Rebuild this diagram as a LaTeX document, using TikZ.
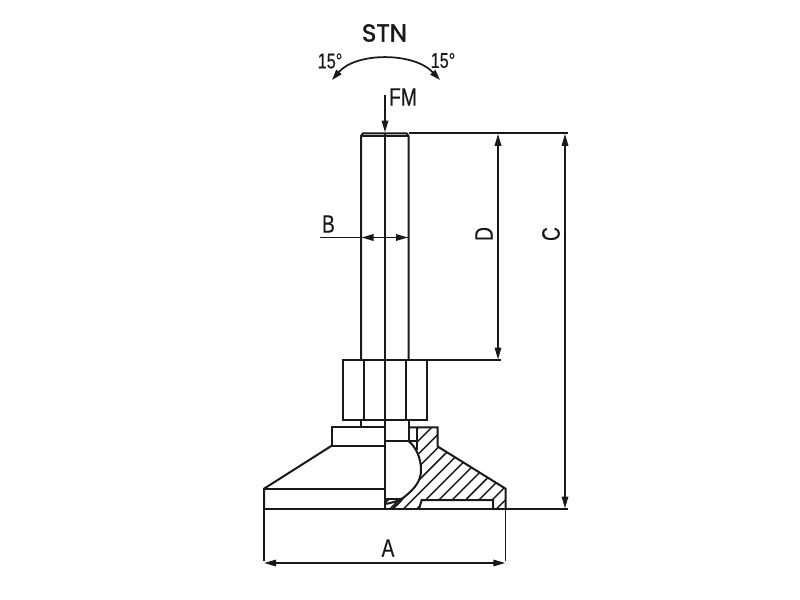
\documentclass[tikz,border=0pt]{standalone}
\usepackage{fontspec}
\usetikzlibrary{arrows.meta}
\setmainfont{Liberation Sans}
\newfontfamily\condfont[FakeStretch=0.76,FakeBold=0.25]{Liberation Sans}
\newfontfamily\titlefont[FakeBold=1.6]{Poppins}
\tikzset{
  part/.style={line width=1.5pt,black!90,line join=miter},
  thinpart/.style={line width=1.2pt,black!90},
  hatchline/.style={line width=1.1pt,black!90},
  dimline/.style={line width=1.35pt,black!90},
  tip/.style={{Stealth[length=9pt,width=4.8pt,inset=0pt]}-{Stealth[length=9pt,width=4.8pt,inset=0pt]}},
  oneend/.style={-{Stealth[length=9pt,width=4.8pt,inset=0pt]}},
  lab/.style={font=\condfont\fontsize{19}{20}\selectfont,inner sep=0pt,text=black!90},
  deg/.style={font=\condfont\fontsize{16}{17}\selectfont,inner sep=0pt,text=black!90}
}
\begin{document}
\begin{tikzpicture}[x=0.75pt,y=-0.75pt]
\useasboundingbox (0,0) rectangle (800,600);
\fill[white] (0,0) rectangle (800,600);
% hatching
\begin{scope}
\clip (417,427) -- (437.7,427) -- (437.7,446.5) -- (505.6,488.7) -- (505.6,509) -- (493,509) -- (493,500) -- (421.7,500) -- (419,509) -- (392,509)
   .. controls (398,505) and (401,501) .. (403,498) .. controls (416,488) and (421,480) .. (421,470) .. controls (421,462) and (420,455) .. (417,450) -- cycle;
\foreach \k in {-5,...,10}{
  \pgfmathsetmacro{\s}{912.3+13.3*\k}
  \draw[hatchline] (380,\s-380) -- (520,\s-520);
}
\end{scope}
\begin{scope}
\clip (385,498.5) -- (403,498.5) -- (392,509) -- (385,509) -- cycle;
\foreach \s in {888,899}{ \draw[hatchline] (380,\s-380) -- (420,\s-420); }
\end{scope}
% stud
\draw[part] (361,360) -- (361,136) -- (363,133.3) -- (406.5,133.3) -- (408.5,136) -- (408.5,360);
\draw[thinpart] (361,136) -- (408.5,136);
% centre line
\draw[part] (385,133.3) -- (385,509);
% nut
\draw[part] (342.7,360) rectangle (426.7,420);
\draw[part] (363.5,360) -- (363.5,420) (405.7,360) -- (405.7,420);
% neck
\draw[part] (361,420) -- (361,427) (408.5,420) -- (408.5,441);
\draw[part] (385,441) -- (416.7,441);
% collar and body
\draw[part] (385,427.3) -- (331.7,427.3) -- (331.7,445.7) -- (385,445.7);
\draw[part] (331.7,445.7) -- (264,488.7) -- (264,509);
\draw[part] (264,488.7) -- (385,488.7);
\draw[part] (408.5,427.3) -- (437.7,427.3) -- (437.7,446.5) -- (505.6,488.7) -- (505.6,509);
\draw[part] (417,427.3) -- (417,450);
% ball
\draw[part] (408.5,441) .. controls (416,447) and (421,458) .. (421,470) .. controls (421,480) and (416,488) .. (403,498) .. controls (398,501) and (392,503) .. (385,504);
\draw[part] (385,498.5) -- (403,498.5);
\draw[part] (403,498) .. controls (400,502) and (397,505) .. (392,509);
% recess
\draw[part] (419,509) -- (421.7,500) -- (493,500) -- (493,509);
% base line and dimensions
\coordinate (baseR) at (568,509);
\coordinate (topR) at (568,133.3);
\coordinate (nutR) at (501,360);
\draw[part] (264,509) -- (baseR);
\draw[dimline] (408.5,133.3) -- (topR);
\draw[dimline] (426.7,360) -- (nutR);
\draw[dimline,tip] (498,133.8) -- (498,359.5);
\draw[dimline,tip] (565,133.8) -- (565,508.5);
\draw[dimline] (264,509) -- (264,561) (505.4,509) -- (505.4,561);
\draw[dimline,tip] (264,563) -- (505.4,563);
% B
\draw[dimline] (320,237.5) -- (408.5,237.5);
\draw[dimline,oneend] (372,237.5) -- (361.5,237.5);
\draw[dimline,oneend] (397,237.5) -- (408,237.5);
% FM
\draw[dimline,oneend] (385,95) -- (385,132.5);
% tilt arc
\coordinate (arcL) at (332,80);
\coordinate (arcR) at (440,80);
\draw[line width=1.3pt,black!90,{Stealth[length=8pt,width=5pt,inset=0pt]}-{Stealth[length=8pt,width=5pt,inset=0pt]}] (arcL) .. controls (356,52) and (414,52) .. (arcR);
% labels
\node[inner sep=0pt,text=black!90] (stn) at (384.5,33) {\titlefont\fontsize{18.5}{19}\selectfont STN};
\node[deg] (degL) at (330,61) {15°};
\node[deg] (degR) at (443,60.5) {15°};
\node[lab] (fm) at (403,97) {FM};
\node[lab] (b) at (328.5,224) {B};
\node[lab,rotate=90] (d) at (484,234) {D};
\node[lab,rotate=90] (c) at (551,234) {C};
\node[lab] (a) at (388,548) {A};
\end{tikzpicture}
\end{document}
